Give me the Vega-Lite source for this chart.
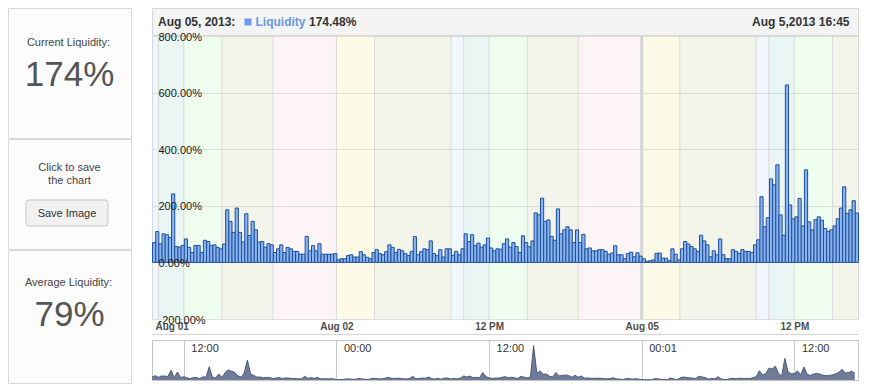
{
  "$schema": "https://vega.github.io/schema/vega-lite/v6.json",
  "background": "white",
  "padding": {"left": 7, "top": 7, "right": 0, "bottom": 0},
  "config": {"font": "Liberation Sans", "view": {"stroke": null}},
  "datasets": {
    "liquidity": [{"hour":9.5,"v":70,"n":70},{"hour":9.75,"v":109,"n":109},{"hour":10,"v":66,"n":66},{"hour":10.25,"v":101,"n":101},{"hour":10.5,"v":98,"n":98},{"hour":10.75,"v":88,"n":88},{"hour":11,"v":242,"n":242},{"hour":11.25,"v":56,"n":56},{"hour":11.5,"v":54,"n":200},{"hour":11.75,"v":60,"n":60},{"hour":12,"v":83,"n":83},{"hour":12.25,"v":53,"n":53},{"hour":12.5,"v":35,"n":35},{"hour":12.75,"v":60,"n":60},{"hour":13,"v":60,"n":60},{"hour":13.25,"v":35,"n":35},{"hour":13.5,"v":78,"n":78},{"hour":13.75,"v":74,"n":74},{"hour":14,"v":60,"n":330},{"hour":14.25,"v":62,"n":62},{"hour":14.5,"v":53,"n":53},{"hour":14.75,"v":48,"n":150},{"hour":15,"v":65,"n":65},{"hour":15.25,"v":186,"n":186},{"hour":15.5,"v":145,"n":250},{"hour":15.75,"v":106,"n":220},{"hour":16,"v":192,"n":192},{"hour":16.25,"v":106,"n":106},{"hour":16.5,"v":72,"n":72},{"hour":16.75,"v":172,"n":172},{"hour":17,"v":95,"n":500},{"hour":17.25,"v":145,"n":145},{"hour":17.5,"v":115,"n":115},{"hour":17.75,"v":72,"n":72},{"hour":18,"v":74,"n":74},{"hour":18.25,"v":54,"n":54},{"hour":18.5,"v":66,"n":66},{"hour":18.75,"v":62,"n":62},{"hour":19,"v":35,"n":35},{"hour":19.25,"v":48,"n":48},{"hour":19.5,"v":62,"n":62},{"hour":19.75,"v":35,"n":35},{"hour":20,"v":53,"n":53},{"hour":20.25,"v":48,"n":48},{"hour":20.5,"v":39,"n":39},{"hour":20.75,"v":39,"n":39},{"hour":21,"v":29,"n":29},{"hour":21.25,"v":29,"n":29},{"hour":21.5,"v":92,"n":92},{"hour":21.75,"v":41,"n":41},{"hour":22,"v":59,"n":59},{"hour":22.25,"v":41,"n":41},{"hour":22.5,"v":66,"n":66},{"hour":22.75,"v":29,"n":29},{"hour":23,"v":29,"n":29},{"hour":23.25,"v":29,"n":29},{"hour":23.5,"v":29,"n":29},{"hour":23.75,"v":31,"n":31},{"hour":24,"v":9,"n":9},{"hour":24.25,"v":13,"n":13},{"hour":24.5,"v":13,"n":13},{"hour":24.75,"v":24,"n":24},{"hour":25,"v":27,"n":27},{"hour":25.25,"v":19,"n":19},{"hour":25.5,"v":19,"n":19},{"hour":25.75,"v":38,"n":38},{"hour":26,"v":27,"n":27},{"hour":26.25,"v":18,"n":18},{"hour":26.5,"v":13,"n":13},{"hour":26.75,"v":35,"n":35},{"hour":27,"v":45,"n":45},{"hour":27.25,"v":31,"n":31},{"hour":27.5,"v":27,"n":27},{"hour":27.75,"v":38,"n":38},{"hour":28,"v":62,"n":62},{"hour":28.25,"v":53,"n":53},{"hour":28.5,"v":35,"n":35},{"hour":28.75,"v":46,"n":46},{"hour":29,"v":41,"n":41},{"hour":29.25,"v":31,"n":31},{"hour":29.5,"v":24,"n":24},{"hour":29.75,"v":39,"n":39},{"hour":30,"v":91,"n":91},{"hour":30.25,"v":27,"n":27},{"hour":30.5,"v":38,"n":38},{"hour":30.75,"v":48,"n":48},{"hour":31,"v":45,"n":45},{"hour":31.25,"v":76,"n":76},{"hour":31.5,"v":31,"n":31},{"hour":31.75,"v":24,"n":24},{"hour":32,"v":45,"n":45},{"hour":32.25,"v":19,"n":19},{"hour":32.5,"v":48,"n":48},{"hour":32.75,"v":48,"n":48},{"hour":33,"v":25,"n":25},{"hour":33.25,"v":39,"n":39},{"hour":33.5,"v":27,"n":27},{"hour":33.75,"v":48,"n":48},{"hour":34,"v":101,"n":101},{"hour":34.25,"v":74,"n":74},{"hour":34.5,"v":98,"n":98},{"hour":34.75,"v":59,"n":59},{"hour":35,"v":68,"n":68},{"hour":35.25,"v":54,"n":54},{"hour":35.5,"v":62,"n":190},{"hour":35.75,"v":86,"n":86},{"hour":36,"v":51,"n":51},{"hour":36.25,"v":41,"n":41},{"hour":36.5,"v":48,"n":48},{"hour":36.75,"v":47,"n":47},{"hour":37,"v":66,"n":66},{"hour":37.25,"v":83,"n":83},{"hour":37.5,"v":54,"n":54},{"hour":37.75,"v":70,"n":70},{"hour":38,"v":56,"n":56},{"hour":38.25,"v":35,"n":35},{"hour":38.5,"v":94,"n":94},{"hour":38.75,"v":70,"n":70},{"hour":39,"v":55,"n":55},{"hour":39.25,"v":76,"n":76},{"hour":39.5,"v":175,"n":860},{"hour":39.75,"v":168,"n":168},{"hour":40,"v":227,"n":227},{"hour":40.25,"v":145,"n":145},{"hour":40.5,"v":150,"n":150},{"hour":40.75,"v":92,"n":92},{"hour":41,"v":78,"n":78},{"hour":41.25,"v":189,"n":189},{"hour":41.5,"v":101,"n":101},{"hour":41.75,"v":115,"n":115},{"hour":42,"v":126,"n":126},{"hour":42.25,"v":115,"n":115},{"hour":42.5,"v":70,"n":70},{"hour":42.75,"v":115,"n":115},{"hour":43,"v":70,"n":70},{"hour":43.25,"v":99,"n":99},{"hour":43.5,"v":48,"n":48},{"hour":43.75,"v":51,"n":51},{"hour":44,"v":41,"n":41},{"hour":44.25,"v":41,"n":41},{"hour":44.5,"v":45,"n":45},{"hour":44.75,"v":45,"n":45},{"hour":45,"v":39,"n":39},{"hour":45.25,"v":29,"n":29},{"hour":45.5,"v":33,"n":33},{"hour":45.75,"v":59,"n":59},{"hour":46,"v":27,"n":27},{"hour":46.25,"v":27,"n":27},{"hour":46.5,"v":13,"n":13},{"hour":46.75,"v":31,"n":31},{"hour":47,"v":36,"n":36},{"hour":47.25,"v":20,"n":20},{"hour":47.5,"v":34,"n":34},{"hour":47.75,"v":22,"n":22},{"hour":48,"v":13,"n":13},{"hour":48.25,"v":4,"n":4},{"hour":48.5,"v":6,"n":6},{"hour":48.75,"v":9,"n":9},{"hour":49,"v":32,"n":32},{"hour":49.25,"v":33,"n":33},{"hour":49.5,"v":15,"n":15},{"hour":49.75,"v":15,"n":15},{"hour":50,"v":6,"n":6},{"hour":50.25,"v":48,"n":48},{"hour":50.5,"v":29,"n":29},{"hour":50.75,"v":9,"n":9},{"hour":51,"v":48,"n":48},{"hour":51.25,"v":74,"n":74},{"hour":51.5,"v":65,"n":65},{"hour":51.75,"v":56,"n":56},{"hour":52,"v":48,"n":48},{"hour":52.25,"v":39,"n":39},{"hour":52.5,"v":96,"n":96},{"hour":52.75,"v":76,"n":76},{"hour":53,"v":62,"n":62},{"hour":53.25,"v":20,"n":20},{"hour":53.5,"v":41,"n":41},{"hour":53.75,"v":27,"n":27},{"hour":54,"v":83,"n":83},{"hour":54.25,"v":27,"n":27},{"hour":54.5,"v":13,"n":13},{"hour":54.75,"v":13,"n":13},{"hour":55,"v":45,"n":45},{"hour":55.25,"v":39,"n":39},{"hour":55.5,"v":32,"n":32},{"hour":55.75,"v":45,"n":45},{"hour":56,"v":39,"n":39},{"hour":56.25,"v":39,"n":39},{"hour":56.5,"v":35,"n":35},{"hour":56.75,"v":62,"n":62},{"hour":57,"v":80,"n":80},{"hour":57.25,"v":232,"n":232},{"hour":57.5,"v":126,"n":126},{"hour":57.75,"v":158,"n":158},{"hour":58,"v":295,"n":295},{"hour":58.25,"v":274,"n":274},{"hour":58.5,"v":345,"n":345},{"hour":58.75,"v":168,"n":168},{"hour":59,"v":96,"n":96},{"hour":59.25,"v":627,"n":540},{"hour":59.5,"v":203,"n":203},{"hour":59.75,"v":154,"n":154},{"hour":60,"v":161,"n":161},{"hour":60.25,"v":226,"n":226},{"hour":60.5,"v":129,"n":129},{"hour":60.75,"v":327,"n":327},{"hour":61,"v":143,"n":143},{"hour":61.25,"v":115,"n":115},{"hour":61.5,"v":151,"n":151},{"hour":61.75,"v":161,"n":161},{"hour":62,"v":149,"n":149},{"hour":62.25,"v":120,"n":120},{"hour":62.5,"v":109,"n":109},{"hour":62.75,"v":115,"n":115},{"hour":63,"v":129,"n":129},{"hour":63.25,"v":154,"n":154},{"hour":63.5,"v":192,"n":192},{"hour":63.75,"v":267,"n":267},{"hour":64,"v":173,"n":173},{"hour":64.25,"v":186,"n":186},{"hour":64.5,"v":218,"n":218},{"hour":64.75,"v":174.48,"n":174.48}],
    "zones": [
      {"start":9.5,"end":10,"zone":"09-10"},{"start":10,"end":12,"zone":"10-12"},{"start":12,"end":15,"zone":"12-15"},{"start":15,"end":19,"zone":"15-19"},{"start":19,"end":24,"zone":"19-24"},
      {"start":24,"end":27,"zone":"00-03"},{"start":27,"end":33,"zone":"03-09"},{"start":33,"end":34,"zone":"09-10"},{"start":34,"end":36,"zone":"10-12"},{"start":36,"end":39,"zone":"12-15"},{"start":39,"end":43,"zone":"15-19"},{"start":43,"end":48,"zone":"19-24"},
      {"start":48,"end":51,"zone":"00-03"},{"start":51,"end":57,"zone":"03-09"},{"start":57,"end":58,"zone":"09-10"},{"start":58,"end":60,"zone":"10-12"},{"start":60,"end":63,"zone":"12-15"},{"start":63,"end":65,"zone":"15-19"}
    ],
    "breaks": [{"hour": 48, "note": "weekend"}]
  },
  "spacing": 17,
  "hconcat": [
    {
      "spacing": -2,
      "vconcat": [
        {
          "width": 123, "height": 130,
          "view": {"stroke": "#d9d9d9", "fill": "#fcfcfc"},
          "data": {"values": [{"label": "Current Liquidity:", "value": "174%"}]},
          "layer": [
            {"mark": {"type": "text", "fontSize": 11, "color": "#444444", "baseline": "alphabetic", "dy": -27, "dx": -1}, "encoding": {"text": {"field": "label", "type": "nominal"}}},
            {"mark": {"type": "text", "fontSize": 35, "color": "#555555", "baseline": "alphabetic", "dy": 13}, "encoding": {"text": {"field": "value", "type": "nominal"}}}
          ]
        },
        {
          "width": 123, "height": 110,
          "view": {"stroke": "#d9d9d9", "fill": "#fcfcfc"},
          "data": {"values": [{"prompt": "Click to save\nthe chart", "action": "Save Image"}]},
          "layer": [
            {"mark": {"type": "text", "fontSize": 11, "color": "#444444", "baseline": "alphabetic", "lineBreak": "\n", "lineHeight": 13, "dy": -23}, "encoding": {"text": {"field": "prompt", "type": "nominal"}}},
            {"mark": {"type": "point", "shape": "M -0.927 -0.317 L 0.927 -0.317 Q 1 -0.317 1 -0.244 L 1 0.244 Q 1 0.317 0.927 0.317 L -0.927 0.317 Q -1 0.317 -1 0.244 L -1 -0.244 Q -1 -0.317 -0.927 -0.317 Z", "size": 6724, "filled": true, "fill": "#f1f1f1", "stroke": "#c5c5c5", "strokeWidth": 1, "opacity": 1, "xOffset": -2.5, "yOffset": 19}, "encoding": {}},
            {"mark": {"type": "text", "fontSize": 11, "color": "#333333", "baseline": "alphabetic", "dy": 23, "dx": -2.5}, "encoding": {"text": {"field": "action", "type": "nominal"}}}
          ]
        },
        {
          "width": 123, "height": 133,
          "view": {"stroke": "#d9d9d9", "fill": "#fcfcfc"},
          "data": {"values": [{"label": "Average Liquidity:", "value": "79%"}]},
          "layer": [
            {"mark": {"type": "text", "fontSize": 11, "color": "#444444", "baseline": "alphabetic", "dy": -31, "dx": -1}, "encoding": {"text": {"field": "label", "type": "nominal"}}},
            {"mark": {"type": "text", "fontSize": 35, "color": "#555555", "baseline": "alphabetic", "dy": 9}, "encoding": {"text": {"field": "value", "type": "nominal"}}}
          ]
        }
      ]
    },
    {
      "spacing": 4,
      "vconcat": [
        {
          "spacing": -7,
          "vconcat": [
            {
              "width": 706, "height": 27,
              "view": {"stroke": "#d6d6d6", "fill": "#f4f4f4"},
              "data": {"values": [{"date": "Aug 05, 2013:", "series": "Liquidity", "value": "174.48%", "time": "Aug 5,2013 16:45"}]},
              "layer": [
                {"mark": {"type": "text", "align": "left", "baseline": "alphabetic", "fontSize": 12, "fontWeight": "bold", "color": "#333333", "dx": -347, "dy": 4.5}, "encoding": {"text": {"field": "date", "type": "nominal"}}},
                {"mark": {"type": "point", "shape": "square", "size": 49, "filled": true, "color": "#6f9ded", "opacity": 1, "xOffset": -257, "yOffset": 0.5}, "encoding": {}},
                {"mark": {"type": "text", "align": "left", "baseline": "alphabetic", "fontSize": 12, "fontWeight": "bold", "color": "#6a98e4", "dx": -249.5, "dy": 4.5}, "encoding": {"text": {"field": "series", "type": "nominal"}}},
                {"mark": {"type": "text", "align": "left", "baseline": "alphabetic", "fontSize": 12, "fontWeight": "bold", "color": "#333333", "dx": -196, "dy": 4.5}, "encoding": {"text": {"field": "value", "type": "nominal"}}},
                {"mark": {"type": "text", "align": "right", "baseline": "alphabetic", "fontSize": 12, "fontWeight": "bold", "color": "#333333", "dx": 344.5, "dy": 4.5}, "encoding": {"text": {"field": "time", "type": "nominal"}}}
              ]
            },
            {
              "width": 706, "height": 283,
              "view": {"stroke": "#d6d6d6", "fill": "white"},
              "resolve": {"axis": {"y": "independent"}},
              "layer": [
                {
                  "data": {"name": "zones"},
                  "mark": {"type": "rect", "opacity": 0.25},
                  "encoding": {
                    "x": {"field": "start", "type": "quantitative", "scale": {"domain": [9.5, 65], "nice": false, "zero": false},
                      "axis": {"orient": "bottom", "values": [9.5, 24, 36, 48, 60], "labelExpr": "datum.value == 9.5 ? 'Aug 01' : datum.value == 24 ? 'Aug 02' : datum.value == 48 ? 'Aug 05' : '12 PM'", "title": null, "grid": false, "ticks": false, "tickSize": 0, "domain": true, "domainColor": "#d6d6d6", "offset": 15, "labelPadding": -8, "labelBaseline": "middle", "labelFontSize": 10, "labelFontWeight": "bold", "labelColor": "#4d4d4d", "labelFlush": true, "labelFlushOffset": -3, "labelOverlap": false}},
                    "x2": {"field": "end"},
                    "y": {"datum": 800, "type": "quantitative", "scale": {"domain": [-200, 800], "nice": false, "zero": false},
                      "axis": {"orient": "left", "values": [-200, 0, 200, 400, 600, 800], "labelExpr": "datum.value + '.00%'", "title": null, "grid": false, "ticks": false, "tickSize": 0, "domain": false, "labelAlign": "left", "labelBaseline": "middle", "labelPadding": -6, "labelOffset": 1, "labelFontSize": 11, "labelColor": "#1a1a1a", "labelFlush": false, "labelOverlap": false, "zindex": 1}},
                    "y2": {"datum": -200},
                    "color": {"field": "zone", "type": "nominal", "legend": null,
                      "scale": {"domain": ["09-10", "10-12", "12-15", "15-19", "19-24", "00-03", "03-09"], "range": ["#cbdbf7", "#abdbd3", "#bff7bf", "#d3d7ab", "#f7d3d7", "#f7ef9f", "#d3d7ab"]}}
                  }
                },
                {
                  "data": {"name": "zones"},
                  "transform": [{"filter": "datum.start > 9.5"}],
                  "mark": {"type": "rule", "color": "#d9d9d9", "strokeWidth": 1},
                  "encoding": {"x": {"field": "start", "type": "quantitative"}}
                },
                {
                  "data": {"name": "breaks"},
                  "mark": {"type": "rule", "color": "#d4d4d4", "strokeWidth": 3},
                  "encoding": {"x": {"field": "hour", "type": "quantitative"}}
                },
                {
                  "data": {"name": "liquidity"},
                  "mark": {"type": "bar", "fill": "#8cb4ec", "stroke": "#1d4f9f", "strokeWidth": 1, "binSpacing": 0},
                  "encoding": {
                    "x": {"field": "hour", "type": "quantitative", "bin": {"binned": true, "step": 0.25}},
                    "y": {"field": "v", "type": "quantitative", "axis": {"orient": "left", "values": [-200, 0, 200, 400, 600, 800], "title": null, "labels": false, "ticks": false, "domain": false, "grid": true, "gridColor": "#dedede", "zindex": 0}}
                  }
                }
              ]
            }
          ]
        },
        {
          "width": 706, "height": 40,
          "view": {"stroke": "#c4c4c4", "fill": "white"},
          "data": {"name": "liquidity"},
          "mark": {"type": "area", "color": "#6f7b98", "opacity": 1, "line": {"color": "#4d5a7a", "strokeWidth": 1}},
          "encoding": {
            "x": {"field": "hour", "type": "quantitative", "scale": {"domain": [9.5, 65], "nice": false, "zero": false},
              "axis": {"orient": "top", "values": [12, 24, 36, 48, 60], "labelExpr": "datum.value == 24 ? '00:00' : datum.value == 48 ? '00:01' : '12:00'", "title": null, "grid": true, "gridColor": "#c8c8c8", "ticks": false, "tickSize": 0, "domain": false, "labelAlign": "left", "labelBaseline": "middle", "labelPadding": -8, "labelOffset": 7, "labelFontSize": 11, "labelColor": "#333333", "labelFlush": false, "labelOverlap": false}},
            "y": {"field": "n", "type": "quantitative", "scale": {"domain": [0, 1000], "nice": false}, "axis": null}
          }
        }
      ]
    }
  ]
}
